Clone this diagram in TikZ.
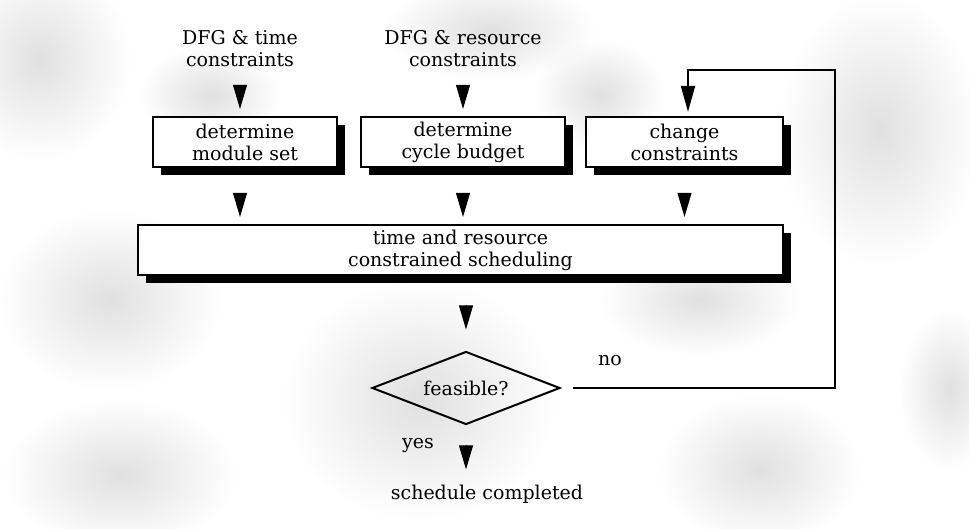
\documentclass[tikz,border=0pt]{standalone}
\usepackage{fontspec}
\setmainfont{DejaVu Serif}
\usetikzlibrary{arrows.meta,shapes.geometric,shadows,calc,fadings}
\tikzfading[name=softblob, inner color=transparent!20, outer color=transparent!100]
\begin{document}
\begin{tikzpicture}[x=1pt,y=-1pt,
  every node/.style={font=\fontsize{19}{22}\selectfont, align=center},
  box/.style={draw, line width=2.2pt, fill=white, inner sep=0pt, minimum height=50pt,
    drop shadow={shadow xshift=8pt, shadow yshift=-8pt, opacity=1, fill=black}},
  tip/.style={line width=1pt, -{Triangle[length=24pt,width=14pt]}},
  loopline/.style={line width=2pt, -{Triangle[length=26pt,width=14pt]}},
  lbl/.style={anchor=base, inner sep=2pt},
  blob/.style={fill=black!15, path fading=softblob}
]
\fill[white] (0,0) rectangle (969,529);
\useasboundingbox (0,0) rectangle (969,529);

% scanned halftone background patches
\fill[blob] (40,60) ellipse [x radius=90pt, y radius=100pt];
\fill[blob] (210,95) ellipse [x radius=70pt, y radius=50pt];
\fill[blob] (490,30) ellipse [x radius=105pt, y radius=50pt];
\fill[blob] (600,95) ellipse [x radius=65pt, y radius=55pt];
\fill[blob] (880,130) ellipse [x radius=100pt, y radius=135pt];
\fill[blob] (110,300) ellipse [x radius=110pt, y radius=90pt];
\fill[blob] (120,475) ellipse [x radius=115pt, y radius=75pt];
\fill[blob] (420,400) ellipse [x radius=135pt, y radius=120pt];
\fill[blob] (700,300) ellipse [x radius=100pt, y radius=55pt];
\fill[blob] (760,470) ellipse [x radius=100pt, y radius=75pt];
\fill[blob] (950,390) ellipse [x radius=50pt, y radius=80pt];

\node (in1) at (240,49) {DFG \& time\\constraints};
\node (in2) at (463,49) {DFG \& resource\\constraints};
\node[box, minimum width=184pt] (b1) at (245,142) {determine\\module set};
\node[box, minimum width=204pt] (b2) at (463,142) {determine\\cycle budget};
\node[box, minimum width=197pt] (b3) at (684.5,142) {change\\constraints};
\node[box, minimum width=645pt] (big) at (460.5,250) {time and resource\\constrained scheduling};
\node[diamond, draw, line width=2pt, inner sep=0pt, aspect=2.6, minimum width=188pt, minimum height=73pt] (dia) at (466,388) {feasible?};
\node[lbl] (out) at (487,499) {schedule completed};
\node[lbl] (yes) at (418,448) {yes};
\node[lbl] (no) at (610,365) {no};

% detached arrowheads (flow from node to node)
\draw[tip, shorten >=7pt] ($(in1.south |- b1.north)+(0,-31)$) -- (in1.south |- b1.north);
\draw[tip, shorten >=7pt] ($(in2.south |- b2.north)+(0,-31)$) -- (in2.south |- b2.north);
\draw[tip, shorten >=7pt] ($(big.north -| in1.south)+(0,-31)$) -- (big.north -| in1.south);
\draw[tip, shorten >=7pt] ($(big.north -| b2.south)+(0,-31)$) -- (big.north -| b2.south);
\draw[tip, shorten >=7pt] ($(big.north -| b3.south)+(0,-31)$) -- (big.north -| b3.south);
\draw[tip, shorten >=21pt] ($(dia.north)+(0,-45)$) -- (dia.north);
\draw[tip, shorten >=13pt] ($(dia.south |- out.north)+(0,-37)$) -- (dia.south |- out.north);

\coordinate (c1) at (835,70);
\coordinate (c2) at (688,70);
\draw[loopline, shorten <=12pt] (dia.east) -| (c1) -- (c2) -- ($(c2 |- b3.north)+(0,-4)$);
\end{tikzpicture}
\end{document}
